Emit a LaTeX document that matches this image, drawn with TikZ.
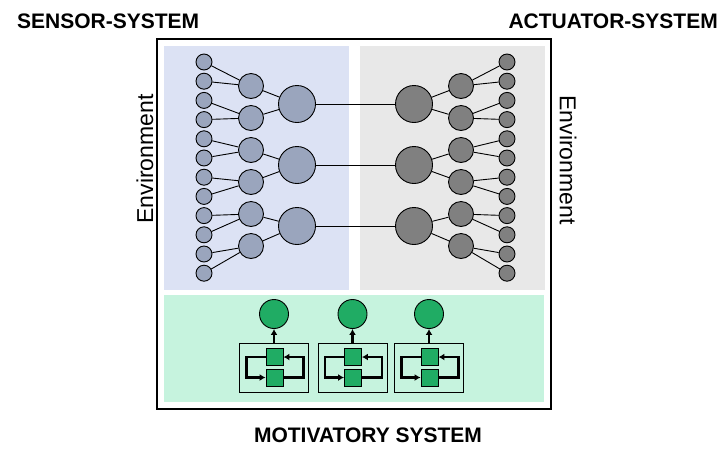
\documentclass[tikz,border=0pt]{standalone}
\usepackage{fontspec}
\setmainfont{Liberation Sans}
\usetikzlibrary{arrows.meta}

\definecolor{sensorbg}{RGB}{220,226,244}
\definecolor{actorbg}{RGB}{232,232,232}
\definecolor{motivbg}{RGB}{198,243,222}
\definecolor{sensorfill}{RGB}{154,165,189}
\definecolor{actorfill}{RGB}{128,128,128}
\definecolor{motivfill}{RGB}{32,172,100}

\begin{document}
\begin{tikzpicture}[x=1pt,y=-1pt,
	neuron/.style={circle,draw,line width=0.9pt,inner sep=0pt},
	small/.style={neuron,minimum size=16pt},
	middle/.style={neuron,minimum size=25pt},
	big/.style={neuron,minimum size=37pt},
	unit/.style={draw,line width=0.9pt,fill=motivfill,minimum width=17pt,minimum height=17pt,inner sep=0pt},
	loop/.style={line width=2.5pt,-{Latex[length=6pt,width=7pt]}},
	title/.style={font=\bfseries\fontsize{21}{25}\selectfont},
	envlabel/.style={font=\fontsize{23}{27}\selectfont}]

	\useasboundingbox (0,0) rectangle (722,448);

	%panels
	\fill[sensorbg] (164,46) rectangle (349,290);
	\fill[actorbg] (360,46) rectangle (545,290);
	\fill[motivbg] (164,295) rectangle (544,402);
	\draw[line width=1.2pt] (157,39) rectangle (551,409);

	%sensor and actuator neurons
	\foreach \i in {0,...,11}{
		\node[small,fill=sensorfill] (s-\i) at (204,{62+19.2*\i}) {};
		\node[small,fill=actorfill] (as-\i) at (507,{62+19.2*\i}) {};
	}
	\foreach \j in {0,...,5}{
		\node[middle,fill=sensorfill] (m-\j) at (251,{86+32*\j}) {};
		\node[middle,fill=actorfill] (am-\j) at (461,{86+32*\j}) {};
	}
	\foreach \k in {0,1,2}{
		\node[big,fill=sensorfill] (b-\k) at (297,{104+61*\k}) {};
		\node[big,fill=actorfill] (ab-\k) at (414,{104+61*\k}) {};
	}

	%connections
	\foreach \j in {0,...,5}{
		\pgfmathtruncatemacro{\a}{2*\j}
		\pgfmathtruncatemacro{\b}{2*\j+1}
		\draw[line width=0.9pt] (s-\a) -- (m-\j) (s-\b) -- (m-\j);
		\draw[line width=0.9pt] (as-\a) -- (am-\j) (as-\b) -- (am-\j);
	}
	\foreach \k in {0,1,2}{
		\pgfmathtruncatemacro{\a}{2*\k}
		\pgfmathtruncatemacro{\b}{2*\k+1}
		\draw[line width=0.9pt] (m-\a) -- (b-\k) (m-\b) -- (b-\k);
		\draw[line width=0.9pt] (am-\a) -- (ab-\k) (am-\b) -- (ab-\k);
		\draw[line width=0.8pt] (b-\k) -- (ab-\k);
	}

	%motivatory system
	\foreach \x [count=\n] in {274,352.5,429}{
		\node[neuron,fill=motivfill,minimum size=29pt] (mc-\n) at (\x,314) {};
		\node[draw,line width=0.9pt,minimum width=69pt,minimum height=49pt,inner sep=0pt] (mbox-\n) at (\x,367.5) {};
		\node[unit] (mu-\n) at (\x+0.5,357) {};
		\node[unit] (ml-\n) at (\x+0.5,377.5) {};
		\draw[loop] (mu-\n.west) -- ++(-19,0) |- (ml-\n.west);
		\draw[loop] (ml-\n.east) -- ++(20,0) |- (mu-\n.east);
		\draw[loop] (mbox-\n.north) -- (mc-\n.south);
	}

	%labels
	\node[title,anchor=base west,inner sep=0pt] (sensortitle) at (17,28) {SENSOR-SYSTEM};
	\node[title,anchor=base east,inner sep=0pt] (actortitle) at (718,28) {ACTUATOR-SYSTEM};
	\node[title,anchor=base,inner sep=0pt] (motivtitle) at (368,442.5) {MOTIVATORY SYSTEM};
	\node[envlabel,rotate=90] (envleft) at (145,159) {Environment};
	\node[envlabel,rotate=-90] (envright) at (568,160) {Environment};

\end{tikzpicture}
\end{document}
